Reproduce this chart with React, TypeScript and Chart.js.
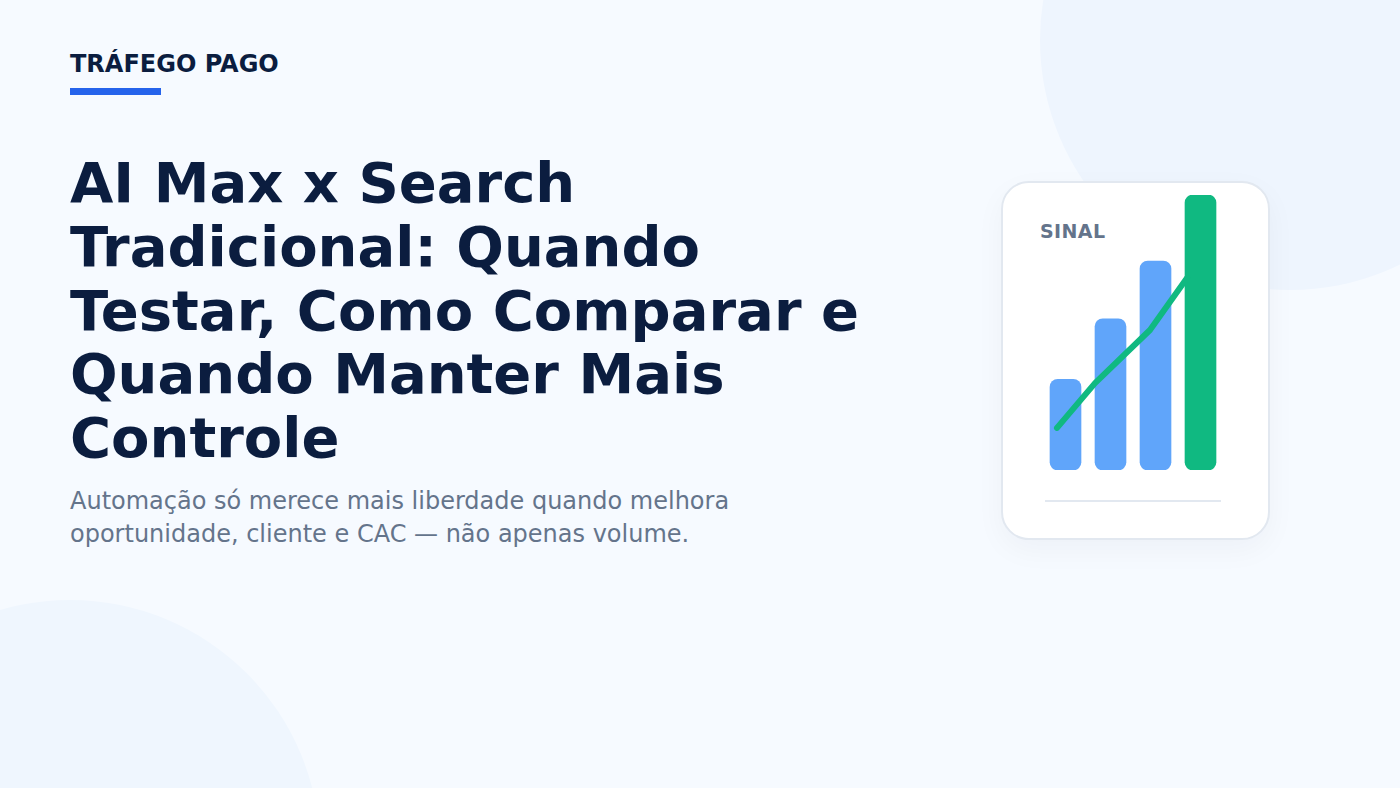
import React, { useEffect, useRef } from "react";
import { Chart, registerables } from "chart.js";

Chart.register(...registerables);

const categories = ["1", "2", "3", "4"];
const barValues = [33, 55, 76, 100];
const barColors = ["#60a5fa", "#60a5fa", "#60a5fa", "#10b981"];
const trendX = [14, 52, 107, 144];
const trendY = [15.3, 31.6, 50.9, 69.8];

const FONT = "'DejaVu Sans', sans-serif";

function SignalChart() {
  const ref = useRef<HTMLCanvasElement | null>(null);
  useEffect(() => {
    if (!ref.current) return;
    const chart = new Chart(ref.current, {
      type: "bar",
      data: {
        labels: categories,
        datasets: [
          {
            type: "bar",
            data: barValues,
            backgroundColor: barColors,
            borderRadius: 8,
            borderSkipped: false,
            barThickness: 31,
            grouped: false,
            order: 1,
          } as any,
          {
            type: "line",
            data: trendX.map((x, i) => ({ x, y: trendY[i] })),
            xAxisID: "x2",
            yAxisID: "y",
            borderColor: "#10b981",
            borderWidth: 6,
            borderCapStyle: "round",
            borderJoinStyle: "round",
            pointRadius: 0,
            fill: false,
            tension: 0,
            order: 0,
            clip: false,
          } as any,
        ],
      },
      options: {
        animation: false,
        responsive: false,
        maintainAspectRatio: false,
        layout: { padding: { top: 10, left: 0, right: 0, bottom: 0 } },
        plugins: { legend: { display: false }, tooltip: { enabled: false }, title: { display: false } },
        scales: {
          x: { type: "category", display: false, offset: true, grid: { display: false } },
          x2: { type: "linear", display: false, min: 0, max: 180, offset: false },
          y: { type: "linear", display: false, min: 0, max: 100, grid: { display: false } },
        },
      } as any,
    });
    return () => chart.destroy();
  }, []);
  return (
    <canvas
      ref={ref}
      width={180}
      height={285}
      style={{ position: "absolute", left: 1043, top: 185, width: 180, height: 285 }}
    />
  );
}

export default function App() {
  useEffect(() => {
    document.body.style.margin = "0";
  }, []);
  return (
    <div
      style={{
        position: "relative",
        width: 1400,
        height: 788,
        overflow: "hidden",
        background: "#f6faff",
        fontFamily: FONT,
      }}
    >
      <div
        style={{
          position: "absolute",
          left: 1040,
          top: -210,
          width: 500,
          height: 500,
          borderRadius: "50%",
          background: "#eef5fe",
        }}
      />
      <div
        style={{
          position: "absolute",
          left: -180,
          top: 600,
          width: 500,
          height: 500,
          borderRadius: "50%",
          background: "#eff6fe",
        }}
      />
      <div
        style={{
          position: "absolute",
          left: 70,
          top: 50,
          fontSize: 24,
          fontWeight: 700,
          color: "#0b1d3f",
          lineHeight: "28px",
          whiteSpace: "nowrap",
        }}
      >
        TRÁFEGO PAGO
      </div>
      <div style={{ position: "absolute", left: 70, top: 88, width: 91, height: 7, background: "#2563eb" }} />
      <div
        style={{
          position: "absolute",
          left: 70,
          top: 151,
          width: 860,
          fontSize: 56,
          fontWeight: 700,
          color: "#0b1d3f",
          lineHeight: "63.8px",
        }}
      >
        AI Max x Search
        <br />
        Tradicional: Quando
        <br />
        Testar, Como Comparar e
        <br />
        Quando Manter Mais
        <br />
        Controle
      </div>
      <div
        style={{
          position: "absolute",
          left: 70,
          top: 485,
          width: 800,
          fontSize: 24,
          color: "#64748b",
          lineHeight: "32.5px",
        }}
      >
        Automação só merece mais liberdade quando melhora
        <br />
        oportunidade, cliente e CAC — não apenas volume.
      </div>
      <div
        style={{
          position: "absolute",
          left: 1001,
          top: 181,
          width: 269,
          height: 359,
          boxSizing: "border-box",
          borderRadius: 28,
          background: "#ffffff",
          border: "2px solid #e2e8f0",
          boxShadow: "0 10px 30px rgba(15,23,42,0.04)",
        }}
      />
      <div
        style={{
          position: "absolute",
          left: 1040,
          top: 220,
          fontSize: 19,
          fontWeight: 700,
          color: "#64748b",
          letterSpacing: 0.4,
          lineHeight: "22px",
        }}
      >
        SINAL
      </div>
      <div style={{ position: "absolute", left: 1045, top: 500, width: 176, height: 2, background: "#e2e8f0" }} />
      <SignalChart />
    </div>
  );
}
